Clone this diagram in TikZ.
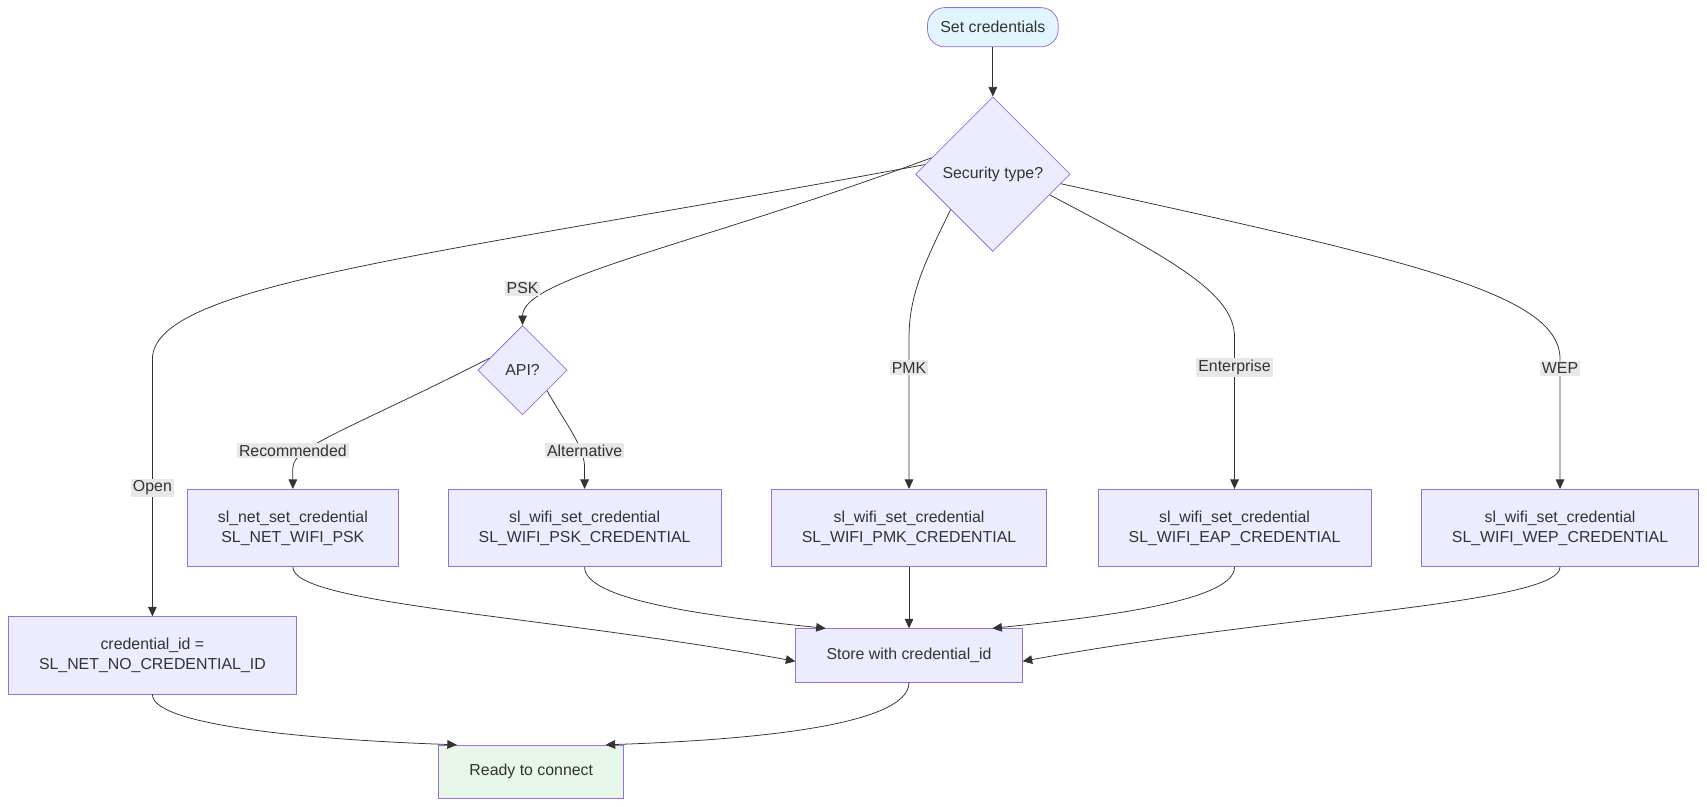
\documentclass[tikz,border=0pt]{standalone}
\usepackage{fontspec}
\setmainfont{Liberation Sans}
\usetikzlibrary{positioning,arrows.meta,shapes.geometric}
\definecolor{boxfill}{HTML}{ECECFF}
\definecolor{boxline}{HTML}{9370DB}
\definecolor{startfill}{HTML}{E1F5FE}
\definecolor{endfill}{HTML}{E8F5E9}
\definecolor{edge}{HTML}{333333}
\definecolor{lblfill}{HTML}{E8E8E8}
\tikzset{
    x=0.02cm, y=-0.02cm,
    every node/.style = {font=\fontsize{8.3}{10.5}\selectfont, text=edge},
    block/.style = {
        draw=boxline,
        fill=boxfill,
        shape=rectangle,
        align=center,
        inner sep=0pt
    },
    decision/.style = {
        draw=boxline,
        fill=boxfill,
        shape=diamond,
        aspect=1,
        inner sep=0pt
    },
    lbl/.style = {
        fill=lblfill,
        inner sep=1pt
    },
    link/.style = {
        draw=edge,
        -{Triangle[length=5pt,width=4.5pt]}
    },
}
\begin{document}
\begin{tikzpicture}
    \useasboundingbox (0,0) rectangle (1568,741);
    \node[block, fill=startfill, rounded corners=9pt, minimum width=120*0.02cm, minimum height=36*0.02cm] (start) at (912,25) {Set credentials};
    \node[decision, minimum width=142*0.02cm, minimum height=142*0.02cm] (sec) at (912,160) {Security type?};
    \node[decision, minimum width=82*0.02cm, minimum height=82*0.02cm] (api) at (480,340) {API?};

    \node[block, minimum width=194*0.02cm, minimum height=71*0.02cm] (netpsk) at (269,485) {sl\_net\_set\_credential\\SL\_NET\_WIFI\_PSK};
    \node[block, minimum width=251*0.02cm, minimum height=71*0.02cm] (wifipsk) at (537,485) {sl\_wifi\_set\_credential\\SL\_WIFI\_PSK\_CREDENTIAL};
    \node[block, minimum width=253*0.02cm, minimum height=71*0.02cm] (pmk) at (835,485) {sl\_wifi\_set\_credential\\SL\_WIFI\_PMK\_CREDENTIAL};
    \node[block, minimum width=251*0.02cm, minimum height=71*0.02cm] (eap) at (1134,485) {sl\_wifi\_set\_credential\\SL\_WIFI\_EAP\_CREDENTIAL};
    \node[block, minimum width=255*0.02cm, minimum height=71*0.02cm] (wep) at (1433,485) {sl\_wifi\_set\_credential\\SL\_WIFI\_WEP\_CREDENTIAL};
    \node[block, minimum width=265*0.02cm, minimum height=71*0.02cm] (open) at (140,602) {credential\_id =\\SL\_NET\_NO\_CREDENTIAL\_ID};
    \node[block, minimum width=208*0.02cm, minimum height=49*0.02cm] (store) at (835,602) {Store with credential\_id};
    \node[block, fill=endfill, minimum width=170*0.02cm, minimum height=49*0.02cm] (ready) at (488,709) {Ready to connect};

    \path[link] (start) -- (sec);
    \path[link] (sec.172) .. controls (400,235) and (140,260) .. (140,330) -- node[lbl] {Open} (open);
    \path[link] (sec.165) .. controls (640,225) and (480,255) .. (480,290) -- (api);
    \node[lbl] (lpsk) at (480,265) {PSK};
    \path[link] (sec.-140) .. controls (850,240) and (835,270) .. (835,310) -- node[lbl, pos=0.2] {PMK} (pmk);
    \path[link] (sec.-20) .. controls (1080,240) and (1134,270) .. (1134,310) -- node[lbl, pos=0.2] {Enterprise} (eap);
    \path[link] (sec.-8) .. controls (1300,240) and (1433,270) .. (1433,330) -- node[lbl, pos=0.07] {WEP} (wep);
    \path[link] (api.160) .. controls (320,395) and (269,410) .. (269,430) -- (netpsk);
    \node[lbl] (lrec) at (269,414) {Recommended};
    \path[link] (api.-40) .. controls (520,390) and (537,410) .. (537,430) -- (wifipsk);
    \node[lbl] (lalt) at (537,414) {Alternative};

    \path[link] (netpsk.south) .. controls (269,555) and (500,565) .. (store.183);
    \path[link] (wifipsk.south) .. controls (537,550) and (640,565) .. (store.162);
    \path[link] (pmk) -- (store);
    \path[link] (eap.south) .. controls (1134,550) and (1030,565) .. (store.18);
    \path[link] (wep.south) .. controls (1433,555) and (1170,565) .. (store.-3);
    \path[link] (open.south) .. controls (140,668) and (300,680) .. (ready.160);
    \path[link] (store.south) .. controls (835,668) and (680,680) .. (ready.20);
\end{tikzpicture}
\end{document}
